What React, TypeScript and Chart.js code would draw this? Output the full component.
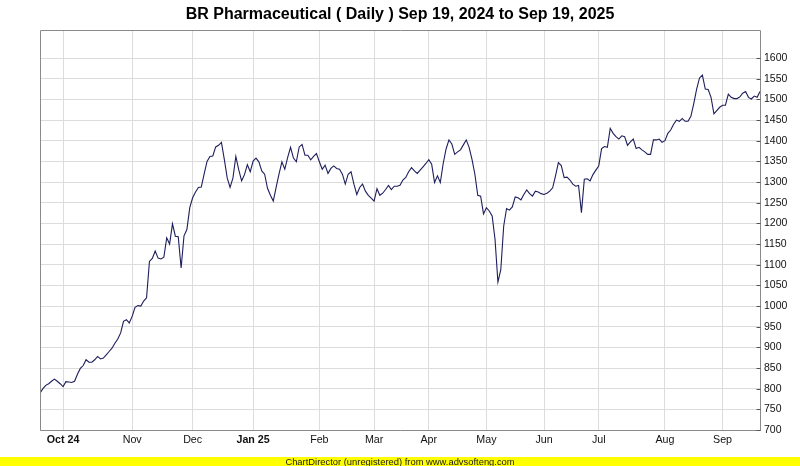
import React, { useEffect, useRef } from "react";
import { Chart, registerables } from "chart.js";

Chart.register(...registerables);

const TITLE = "BR Pharmaceutical ( Daily ) Sep 19, 2024 to Sep 19, 2025";
const FOOTER = "ChartDirector (unregistered) from www.advsofteng.com";

// Daily closing prices, Sep 19, 2024 .. Sep 19, 2025 (one value per trading day)
const prices: number[] = [
  789, 800, 808, 812, 818, 823, 818, 812, 805, 817,
  816, 815, 818, 835, 849, 856, 870, 864, 864, 870,
  878, 872, 874, 882, 890, 898, 910, 920, 935, 963,
  967, 959, 975, 997, 1001, 1000, 1012, 1020, 1108, 1115,
  1133, 1116, 1114, 1118, 1165, 1150, 1199, 1169, 1168, 1092,
  1170, 1185, 1238, 1262, 1276, 1287, 1288, 1320, 1350, 1362,
  1363, 1385, 1389, 1396, 1355, 1310, 1287, 1310, 1362, 1330,
  1303, 1318, 1342, 1325, 1351, 1358, 1349, 1327, 1319, 1285,
  1268, 1254, 1288, 1320, 1349, 1331, 1360, 1384, 1358, 1349,
  1385, 1391, 1365, 1365, 1354, 1362, 1369, 1349, 1331, 1341,
  1321, 1333, 1339, 1333, 1331, 1319, 1295, 1319, 1325, 1295,
  1270, 1287, 1295, 1278, 1268, 1261, 1254, 1284, 1268, 1273,
  1282, 1292, 1282, 1290, 1290, 1292, 1305, 1311, 1325, 1335,
  1327, 1321, 1329, 1337, 1345, 1354, 1343, 1299, 1315, 1299,
  1345, 1380, 1402, 1392, 1367, 1373, 1378, 1390, 1402, 1384,
  1355, 1319, 1268, 1266, 1223, 1238, 1230, 1218, 1161, 1058,
  1088, 1193, 1236, 1232, 1240, 1264, 1262, 1257, 1270, 1281,
  1272, 1266, 1278, 1276, 1272, 1270, 1273, 1278, 1286, 1315,
  1347, 1340, 1311, 1312, 1305, 1295, 1290, 1292, 1226, 1307,
  1308, 1303, 1318, 1329, 1339, 1381, 1386, 1384, 1430, 1418,
  1410, 1404, 1412, 1410, 1389, 1397, 1404, 1381, 1384, 1378,
  1373, 1367, 1367, 1402, 1402, 1404, 1396, 1400, 1418, 1426,
  1440, 1450, 1447, 1454, 1447, 1447, 1459, 1490, 1525, 1552,
  1559, 1525, 1524, 1505, 1465, 1473, 1481, 1486, 1486, 1513,
  1505, 1502, 1502, 1506, 1515, 1519, 1505, 1501, 1508, 1505,
  1519,
];

// Month labels and the trading-day index where each month starts
const monthLabels: string[] = ["Oct 24", "Nov", "Dec", "Jan 25", "Feb", "Mar", "Apr", "May", "Jun", "Jul", "Aug", "Sep"];
const monthStartIdx: number[] = [8, 32, 53, 74, 97, 116, 135, 155, 175, 194, 217, 237];

// Y axis tick labels
const yTicks: number[] = [700, 750, 800, 850, 900, 950, 1000, 1050, 1100, 1150, 1200, 1250, 1300, 1350, 1400, 1450, 1500, 1550, 1600];
const Y_MIN = 700;
const Y_MAX = 1668;

const FONT = '"Liberation Sans", Arial, sans-serif';

const decorPlugin = {
  id: "decor",
  beforeDraw(chart: any) {
    const ctx = chart.ctx;
    ctx.save();
    ctx.fillStyle = "#ffffff";
    ctx.fillRect(0, 0, chart.width, chart.height);
    ctx.restore();
  },
  afterDraw(chart: any) {
    const { ctx, chartArea: a } = chart;
    ctx.save();
    // frame
    ctx.strokeStyle = "#8a8a8a";
    ctx.lineWidth = 1;
    const l = Math.round(a.left) + 0.5;
    const t = Math.round(a.top) + 0.5;
    const r = Math.round(a.right) + 0.5;
    const b = Math.round(a.bottom) + 0.5;
    ctx.beginPath();
    ctx.moveTo(l, b);
    ctx.lineTo(l, t);
    ctx.lineTo(r, t);
    ctx.lineTo(r, b);
    ctx.lineTo(l, b);
    ctx.stroke();
    // inner tick marks on the right axis
    const ys = chart.scales.y;
    ctx.beginPath();
    ctx.strokeStyle = "#555555";
    yTicks.forEach((v) => {
      const py = Math.round(ys.getPixelForValue(v)) + 0.5;
      ctx.moveTo(r - 4, py);
      ctx.lineTo(r, py);
    });
    ctx.stroke();
    // title
    ctx.fillStyle = "#000000";
    ctx.font = `bold 16px ${FONT}`;
    ctx.textAlign = "center";
    ctx.textBaseline = "alphabetic";
    ctx.fillText(TITLE, chart.width / 2, 19);
    // footer band
    ctx.fillStyle = "#ffff00";
    ctx.fillRect(0, 457, chart.width, chart.height - 457);
    ctx.fillStyle = "#202020";
    ctx.font = `9.4px ${FONT}`;
    ctx.fillText(FOOTER, chart.width / 2, 464.5);
    ctx.restore();
  },
};

export default function App() {
  const canvasRef = useRef<HTMLCanvasElement | null>(null);

  useEffect(() => {
    const canvas = canvasRef.current;
    if (!canvas) return;
    const chart = new Chart(canvas, {
      type: "line",
      data: {
        datasets: [
          {
            label: "Close",
            data: prices.map((v, i) => ({ x: i, y: v })),
            borderColor: "#1e1e5c",
            borderWidth: 1.1,
            pointRadius: 0,
            tension: 0,
            fill: false,
          },
        ],
      },
      options: {
        animation: false,
        responsive: false,
        devicePixelRatio: 1,
        layout: { padding: { left: 40, top: 30, right: 0, bottom: 0 } },
        plugins: {
          legend: { display: false },
          title: { display: false },
          tooltip: { enabled: false },
        },
        scales: {
          x: {
            type: "linear",
            min: 0,
            max: prices.length - 1,
            afterBuildTicks: (s: any) => {
              s.ticks = monthStartIdx.map((v) => ({ value: v }));
            },
            afterFit: (s: any) => {
              s.height = 36;
            },
            grid: { color: "#dcdcdc", drawTicks: false, lineWidth: 1 },
            border: { display: false },
            ticks: {
              autoSkip: false,
              maxRotation: 0,
              padding: 4,
              color: "#111111",
              font: (c: any) => ({
                family: FONT,
                size: 10.7,
                weight: /\d/.test(monthLabels[c.index] || "") ? "bold" : "normal",
              }),
              callback: (v: any) => {
                const k = monthStartIdx.indexOf(Number(v));
                return k >= 0 ? monthLabels[k] : "";
              },
            },
          },
          y: {
            type: "linear",
            position: "right",
            min: Y_MIN,
            max: Y_MAX,
            afterBuildTicks: (s: any) => {
              s.ticks = yTicks.map((v) => ({ value: v }));
            },
            afterFit: (s: any) => {
              s.width = 40;
            },
            grid: { color: "#dcdcdc", drawTicks: false, lineWidth: 1 },
            border: { display: false },
            ticks: {
              padding: 4,
              color: "#111111",
              font: { family: FONT, size: 10.5 },
              callback: (v: any) => String(v),
            },
          },
        },
      },
      plugins: [decorPlugin],
    });
    return () => chart.destroy();
  }, []);

  return (
    <div style={{ position: "fixed", left: 0, top: 0, width: 800, height: 466, background: "#fff" }}>
      <canvas ref={canvasRef} width={800} height={466} style={{ display: "block", width: 800, height: 466 }} />
    </div>
  );
}
